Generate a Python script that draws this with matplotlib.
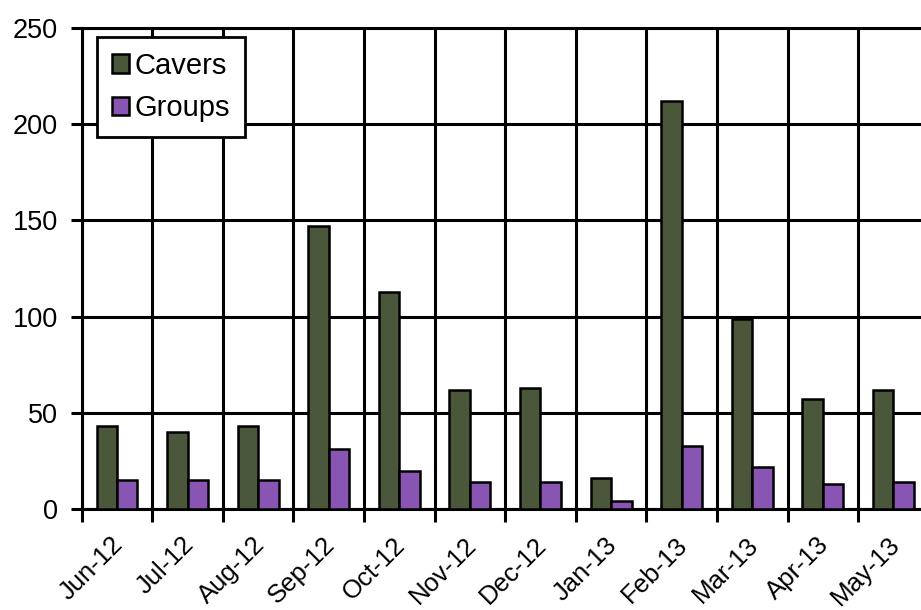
import matplotlib
matplotlib.use("Agg")
import matplotlib.pyplot as plt
import matplotlib.transforms as mtransforms
import numpy as np

months = ["Jun-12", "Jul-12", "Aug-12", "Sep-12", "Oct-12", "Nov-12",
          "Dec-12", "Jan-13", "Feb-13", "Mar-13", "Apr-13", "May-13"]
cavers = [43, 40, 43, 147, 113, 62, 63, 16, 212, 99, 57, 62]
groups = [15, 15, 15, 31, 20, 14, 14, 4, 33, 22, 13, 14]
yticks = [0, 50, 100, 150, 200, 250]

plt.rcParams['font.family'] = ['Liberation Sans', 'DejaVu Sans']

fig = plt.figure(figsize=(9.21, 6.10), dpi=100)
ax = fig.add_axes([81.7/921, 1-509/610, 847/921, 481/610])

x = np.arange(len(months))
w = 0.29
lw_grid = 2.2
ax.bar(x - w/2, cavers, w, color="#4a573a", edgecolor="black", linewidth=1.8,
       label="Cavers", zorder=3)
ax.bar(x + w/2, groups, w, color="#8955b3", edgecolor="black", linewidth=1.8,
       label="Groups", zorder=3)

ax.set_xlim(-0.5, len(months) - 0.5)
ax.set_ylim(0, 250)
ax.set_yticks(yticks)
ax.set_yticklabels([str(v) for v in yticks], fontsize=19.5)

ax.set_xticks(x)
ax.set_xticklabels(months, rotation=45, ha="right", rotation_mode="anchor",
                   fontsize=18.5)
ax.tick_params(axis="x", which="major", length=0, pad=17)
offset = mtransforms.ScaledTranslation(-6/100, 0, fig.dpi_scale_trans)
for lab in ax.get_xticklabels():
    lab.set_transform(lab.get_transform() + offset)
ax.set_xticks(np.arange(-0.5, len(months)), minor=True)
ax.tick_params(axis="x", which="minor", length=9, width=lw_grid, direction="out")
ax.tick_params(axis="y", which="major", length=8, width=lw_grid, direction="out", pad=9)

ax.grid(True, axis="y", which="major", color="black", linewidth=lw_grid, zorder=1)
ax.grid(True, axis="x", which="minor", color="black", linewidth=lw_grid, zorder=1)
ax.grid(False, axis="x", which="major")
ax.set_axisbelow(True)
for s in ax.spines.values():
    s.set_linewidth(lw_grid)
    s.set_color("black")

leg = ax.legend(loc="upper left", bbox_to_anchor=(0.018, 0.981), fontsize=21,
                frameon=True, fancybox=False, handlelength=0.6, handleheight=0.6,
                handletextpad=0.2, labelspacing=0.5, borderpad=0.5, borderaxespad=0)
leg.get_frame().set_edgecolor("black")
leg.get_frame().set_linewidth(2.0)
leg.get_frame().set_alpha(1)

fig.savefig("out.png", dpi=100)
